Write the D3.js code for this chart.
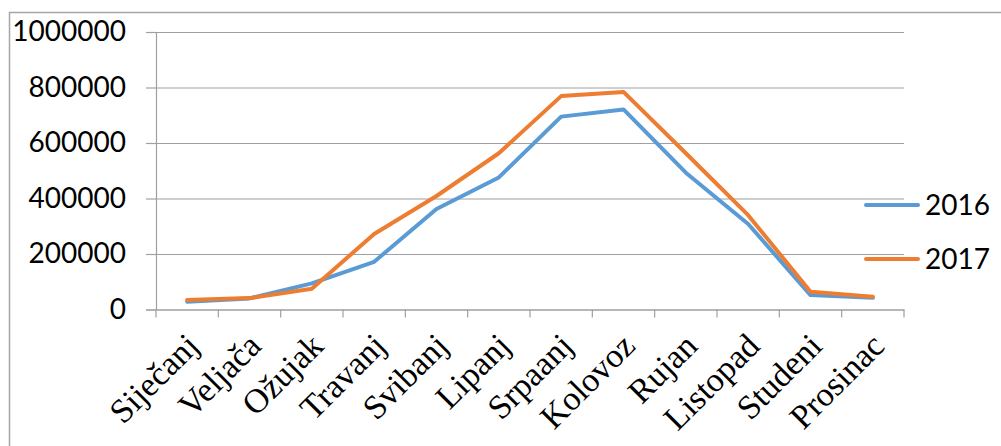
<!DOCTYPE html>
<html><head><meta charset="utf-8">
<script src="https://cdn.jsdelivr.net/npm/d3@7"></script>
<style>html,body{margin:0;padding:0;background:#fff;overflow:hidden}</style>
</head><body>
<svg id="c" width="1001" height="446"></svg>
<script>
const months = ["Siječanj","Veljača","Ožujak","Travanj","Svibanj","Lipanj","Srpaanj","Kolovoz","Rujan","Listopad","Studeni","Prosinac"];
const values2016 = [28000,40000,94000,172000,362000,476000,695000,721000,493000,308000,52000,42000];
const values2017 = [34000,41000,75000,272000,409000,563000,769000,784000,563000,340000,64000,46000];
const seriesNames = ["2016","2017"];
const yTicks = [0,200000,400000,600000,800000,1000000];

(function(){
const svg = d3.select("#c");
svg.append("rect").attr("x",9.5).attr("y",12.5).attr("width",1010).attr("height",450)
  .attr("fill","#fff").attr("stroke","#a6a6a6").attr("stroke-width",1.5);

const pl = 156, pr = 904, pt = 32, pb = 309.5;
const x = d3.scaleBand().domain(months).range([pl,pr]).padding(0);
const y = d3.scaleLinear().domain([0,1000000]).range([pb,pt]);

// gridlines
const gy = svg.append("g").attr("transform",`translate(${pl},0)`)
  .call(d3.axisLeft(y).tickValues(yTicks).tickSize(-(pr-pl)).tickFormat(""));
gy.select(".domain").remove();
gy.selectAll(".tick line").attr("stroke","#a0a0a0").attr("stroke-width",1.2);

// y axis
const ya = svg.append("g").attr("transform",`translate(${pl},0)`)
  .call(d3.axisLeft(y).tickValues(yTicks).tickSize(10).tickPadding(20).tickFormat(d3.format("d")));
ya.select(".domain").attr("stroke","#a0a0a0").attr("stroke-width",1.2);
ya.selectAll(".tick line").attr("stroke","#a0a0a0").attr("stroke-width",1.2);
ya.selectAll(".tick text").attr("font-family","Lato, 'Open Sans', sans-serif").attr("font-size",28).attr("fill","#000");

// x axis
const xa = svg.append("g").attr("transform",`translate(0,${pb})`)
  .call(d3.axisBottom(x).tickSize(0).tickFormat(""));
xa.select(".domain").attr("stroke","#a0a0a0").attr("stroke-width",1.2);
const tickPos = months.map(m=>x(m)).concat([pr]);
xa.selectAll("line.tk").data(tickPos).join("line").attr("class","tk")
  .attr("x1",d=>d).attr("x2",d=>d).attr("y1",0).attr("y2",8)
  .attr("stroke","#a0a0a0").attr("stroke-width",1.2);

svg.append("g").selectAll("text").data(months).join("text")
  .attr("transform",d=>`translate(${x(d)+x.bandwidth()/2+5},${pb+30}) rotate(-45)`)
  .attr("text-anchor","end").attr("dy","0.35em")
  .attr("font-family","'Liberation Serif', 'Times New Roman', serif").attr("font-size",34).attr("fill","#000")
  .text(d=>d);

// lines
const colors = ["#5b9bd5","#ed7d31"];
const data = [values2016, values2017];
const line = d3.line().x((d,i)=>x(months[i])+x.bandwidth()/2).y(d=>y(d));
data.forEach((vals,k)=>{
  svg.append("path").datum(vals).attr("d",line).attr("fill","none")
    .attr("stroke",colors[k]).attr("stroke-width",4).attr("stroke-linejoin","round").attr("stroke-linecap","round");
});

// legend
const legY = [205,259];
seriesNames.forEach((n,k)=>{
  svg.append("line").attr("x1",866).attr("x2",918).attr("y1",legY[k]).attr("y2",legY[k])
    .attr("stroke",colors[k]).attr("stroke-width",4).attr("stroke-linecap","round");
  svg.append("text").attr("x",925).attr("y",legY[k]).attr("dy","0.36em")
    .attr("font-family","Lato, 'Open Sans', sans-serif").attr("font-size",28).attr("fill","#000").text(n);
});
})();
</script>
</body></html>
